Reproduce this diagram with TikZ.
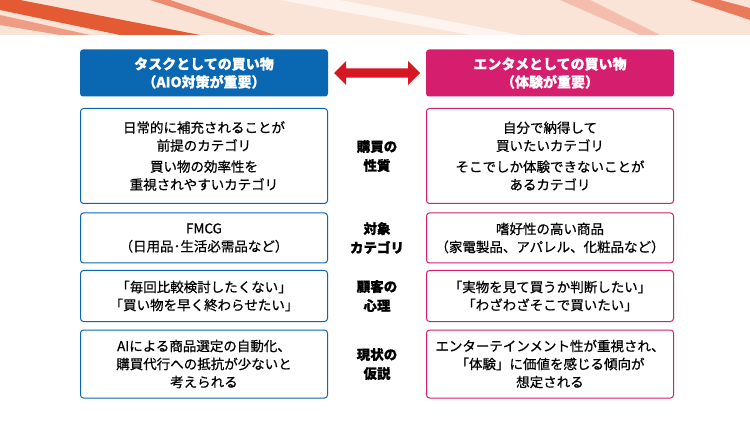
\documentclass[tikz,border=0pt]{standalone}
\usepackage{fontspec}
\setmainfont[FakeBold=0.6]{Noto Sans CJK JP}
\usetikzlibrary{shapes.arrows}
\definecolor{hblue}{RGB}{10,104,178}
\definecolor{hpink}{RGB}{214,30,110}
\definecolor{ared}{RGB}{214,24,36}
\definecolor{bandbg}{RGB}{250,228,215}
\definecolor{streak}{RGB}{228,90,50}
\begin{document}
\begin{tikzpicture}[x=1pt,y=-1pt,
  hdr/.style={rounded corners=3pt,minimum width=248,minimum height=47,align=center,text=white,font=\bfseries\fontsize{14}{18}\selectfont,inner sep=0},
  lbox/.style={draw=hblue,line width=1pt,rounded corners=3pt,minimum width=247,align=center,font=\fontsize{13.5}{18}\selectfont,inner sep=0},
  rbox/.style={lbox,draw=hpink},
  mid/.style={align=center,font=\bfseries\fontsize{13.5}{19}\selectfont}]
\useasboundingbox (0,0) rectangle (750,422);
\fill[white] (0,0) rectangle (750,422);
% top band
\fill[bandbg] (0,0) rectangle (750,35);
\begin{scope}
\clip (0,0) rectangle (750,35);
\fill[streak] (0,10) -- (120,35) -- (200,35) -- (20,0) -- (0,0) -- cycle;
\fill[streak!60] (0,25) -- (60,35) -- (90,35) -- (0,15) -- cycle;
\fill[streak!70] (150,0) -- (260,35) -- (275,35) -- (170,0) -- cycle;
\fill[white!60!bandbg] (280,0) -- (470,35) -- (520,35) -- (340,0) -- cycle;
\fill[streak!40] (560,0) -- (640,35) -- (660,35) -- (590,0) -- cycle;
\fill[streak!80] (690,0) -- (750,20) -- (750,8) -- (720,0) -- cycle;
\end{scope}
% headers
\node[hdr,fill=hblue] (hl) at (204,73) {タスクとしての買い物\\（AIO対策が重要）};
\node[hdr,fill=hpink] (hr) at (550,73) {エンタメとしての買い物\\（体験が重要）};
\node[double arrow,fill=ared,minimum width=24,double arrow head extend=5,minimum height=86,inner sep=3] (arr) at (377,73) {};
% row 1
\node[lbox,minimum height=95] (l1) at (204,156) {日常的に補充されることが\\前提のカテゴリ\\[3pt]買い物の効率性を\\重視されやすいカテゴリ};
\node[rbox,minimum height=95] (r1) at (550,156) {自分で納得して\\買いたいカテゴリ\\[3pt]そこでしか体験できないことが\\あるカテゴリ};
\node[mid] (m1) at (377,156) {購買の\\性質};
% row 2
\node[lbox,minimum height=50] (l2) at (204,238) {FMCG\\（日用品･生活必需品など）};
\node[rbox,minimum height=50] (r2) at (550,238) {嗜好性の高い商品\\（家電製品、アパレル、化粧品など）};
\node[mid] (m2) at (377,238) {対象\\カテゴリ};
% row 3
\node[lbox,minimum height=51] (l3) at (204,296) {「毎回比較検討したくない」\\「買い物を早く終わらせたい」};
\node[rbox,minimum height=51] (r3) at (550,296) {「実物を見て買うか判断したい」\\「わざわざそこで買いたい」};
\node[mid] (m3) at (377,296) {顧客の\\心理};
% row 4
\node[lbox,minimum height=68] (l4) at (204,364) {AIによる商品選定の自動化、\\購買代行への抵抗が少ないと\\考えられる};
\node[rbox,minimum height=68] (r4) at (550,364) {エンターテインメント性が重視され、\\「体験」に価値を感じる傾向が\\想定される};
\node[mid] (m4) at (377,364) {現状の\\仮説};
\end{tikzpicture}
\end{document}
